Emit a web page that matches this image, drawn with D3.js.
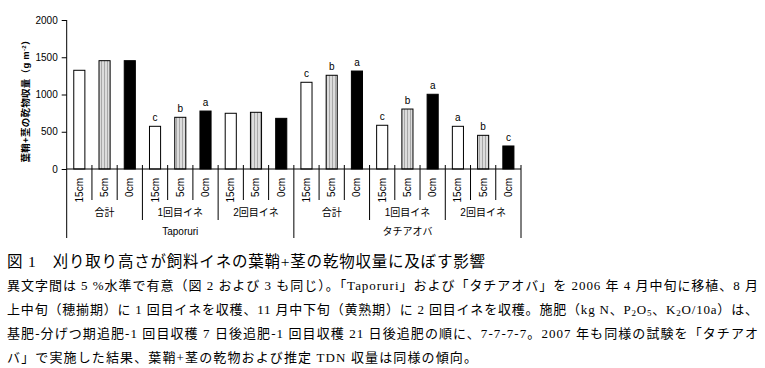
<!DOCTYPE html>
<html>
<head>
<meta charset="utf-8">
<script src="https://cdn.jsdelivr.net/npm/d3@7"></script>
<style>
  body { margin: 0; background: #fff; }
  svg { display: block; }
</style>
</head>
<body>
<script>
var varieties = ["Taporuri", "タチアオバ"];
var groups = ["合計", "1回目イネ", "2回目イネ"];
var heights = ["15cm", "5cm", "0cm"];
var taporuri = [1325, 1454, 1454, 573, 694, 778, 748, 761, 680];
var tachiaoba = [1164, 1258, 1315, 587, 805, 1003, 573, 452, 309];
var taporuriSig = ["", "", "", "c", "b", "a", "", "", ""];
var tachiaobaSig = ["c", "b", "a", "c", "b", "a", "a", "b", "c"];
var yTicks = [0, 500, 1000, 1500, 2000];

var captionTitle = "図 1　刈り取り高さが飼料イネの葉鞘+茎の乾物収量に及ぼす影響";
var captionLines = [
  [["異文字間は 5 %水準で有意（図 2 および 3 も同じ）。「Taporuri」および「タチアオバ」を 2006 年 4 月中旬に移植、8 月"]],
  [["上中旬（穂揃期）に 1 回目イネを収穫、11 月中下旬（黄熟期）に 2 回目イネを収穫。施肥（kg N、P"], ["2", "sub"], ["O"], ["5", "sub"], ["、K"], ["2", "sub"], ["O/10a）は、"]],
  [["基肥-分げつ期追肥-1 回目収穫 7 日後追肥-1 回目収穫 21 日後追肥の順に、7-7-7-7。2007 年も同様の試験を「タチアオ"]],
  [["バ」で実施した結果、葉鞘+茎の乾物および推定 TDN 収量は同様の傾向。"]]
];

// flatten into one list of bars
var bars = [];
varieties.forEach(function(v, vi) {
  var vals = vi == 0 ? taporuri : tachiaoba;
  var sig = vi == 0 ? taporuriSig : tachiaobaSig;
  vals.forEach(function(d, i) {
    bars.push({key: vi + "-" + i, variety: v, group: groups[Math.floor(i / 3)], height: heights[i % 3], h: i % 3, value: d, sig: sig[i]});
  });
});

var svg = d3.select("body").append("svg").attr("width", 765).attr("height", 368);
var sansFont = "'Liberation Sans', Arial, 'Noto Sans CJK JP', sans-serif";
var serifFont = "'Times New Roman', 'Liberation Serif', 'Noto Sans CJK JP', serif";

var defs = svg.append("defs");
var pat = defs.append("pattern").attr("id", "stripe").attr("patternUnits", "userSpaceOnUse")
  .attr("width", 3).attr("height", 4);
pat.append("rect").attr("width", 3).attr("height", 4).attr("fill", "#dcdcdc");
pat.append("rect").attr("x", 2).attr("width", 1).attr("height", 4).attr("fill", "#a8a8a8");

var x0 = 66.7, x1 = 521, yTop = 20, yBase = 169;

var x = d3.scaleBand().domain(bars.map(function(d) { return d.key; }))
  .range([x0, x1]).paddingInner(0.56).paddingOuter(0.28);
var y = d3.scaleLinear().domain([0, 2000]).range([yBase, yTop]);
var step = x.step();

var fills = ["#fff", "url(#stripe)", "#000"];

svg.selectAll("rect.bar").data(bars).enter().append("rect")
  .attr("class", "bar")
  .attr("x", function(d) { return x(d.key); })
  .attr("y", function(d) { return y(d.value); })
  .attr("width", x.bandwidth())
  .attr("height", function(d) { return yBase - y(d.value); })
  .attr("fill", function(d) { return fills[d.h]; })
  .attr("stroke", "#000").attr("stroke-width", 1);

svg.selectAll("text.sig").data(bars.filter(function(d) { return d.sig; })).enter().append("text")
  .attr("class", "sig")
  .attr("x", function(d) { return x(d.key) + x.bandwidth() / 2; })
  .attr("y", function(d) { return y(d.value) - 5; })
  .attr("text-anchor", "middle")
  .attr("font-family", sansFont).attr("font-size", 10)
  .text(function(d) { return d.sig; });

// y axis
var yAxis = d3.axisLeft(y).tickValues(yTicks).tickFormat(d3.format("d"))
  .tickSize(5).tickSizeOuter(0).tickPadding(4);
var ga = svg.append("g").attr("transform", "translate(" + x0 + ",0)").call(yAxis);
ga.select(".domain").remove();
ga.selectAll("text").attr("font-family", sansFont).attr("font-size", 10).attr("fill", "#000");
ga.selectAll("line").attr("stroke", "#000");

svg.append("line").attr("x1", x0).attr("x2", x0).attr("y1", yTop).attr("y2", 238).attr("stroke", "#000");
svg.append("line").attr("x1", x0).attr("x2", x1).attr("y1", yBase).attr("y2", yBase).attr("stroke", "#000");

// y title
var yt = svg.append("text")
  .attr("transform", "translate(29,99) rotate(-90)")
  .attr("text-anchor", "middle")
  .attr("font-family", sansFont).attr("font-size", 9.5).attr("font-weight", "bold")
  .attr("textLength", 127).attr("lengthAdjust", "spacing");
yt.append("tspan").text("葉鞘+茎の乾物収量（g m");
yt.append("tspan").attr("font-size", 6).attr("dy", -3).text("-2");
yt.append("tspan").attr("dy", 3).text("）");

// category dividers
d3.range(1, 18).forEach(function(i) {
  var len = i % 9 == 0 ? 238 : (i % 3 == 0 ? 220 : 200);
  svg.append("line").attr("x1", x0 + i * step).attr("x2", x0 + i * step)
    .attr("y1", yBase - 4).attr("y2", len).attr("stroke", "#000");
});
svg.append("line").attr("x1", x1).attr("x2", x1).attr("y1", yBase - 4).attr("y2", 238).attr("stroke", "#000");

// height labels
svg.selectAll("text.hl").data(bars).enter().append("text")
  .attr("class", "hl")
  .attr("transform", function(d) { return "translate(" + (x(d.key) + x.bandwidth() / 2 + 3.5) + ",178) rotate(-90)"; })
  .attr("text-anchor", "end")
  .attr("font-family", sansFont).attr("font-size", 10)
  .text(function(d) { return d.height; });

// group labels
var groupCells = [];
varieties.forEach(function(v, vi) {
  groups.forEach(function(g, gi) { groupCells.push({label: g, idx: vi * 3 + gi}); });
});
svg.selectAll("text.gl").data(groupCells).enter().append("text")
  .attr("class", "gl")
  .attr("x", function(d) { return x0 + (d.idx * 3 + 1.5) * step; })
  .attr("y", 216)
  .attr("text-anchor", "middle")
  .attr("font-family", sansFont).attr("font-size", 10)
  .text(function(d) { return d.label; });

svg.selectAll("text.vl").data(varieties).enter().append("text")
  .attr("class", "vl")
  .attr("x", function(d, i) { return x0 + (i * 9 + 4.5) * step; })
  .attr("y", 235)
  .attr("text-anchor", "middle")
  .attr("font-family", sansFont).attr("font-size", 10)
  .text(function(d) { return d; });

// caption
svg.append("text").attr("x", 7).attr("y", 267)
  .attr("font-family", serifFont).attr("font-size", 15.5)
  .attr("textLength", 478).attr("lengthAdjust", "spacing")
  .text(captionTitle);

var lineWidths = [751, 751, 751, 470];
captionLines.forEach(function(parts, li) {
  var t = svg.append("text").attr("x", 7).attr("y", 290 + li * 24)
    .attr("font-family", serifFont).attr("font-size", 13)
    .attr("textLength", lineWidths[li]).attr("lengthAdjust", "spacing");
  parts.forEach(function(p, pi) {
    var s = t.append("tspan").text(p[0]);
    if (p[1] == "sub") s.attr("font-size", 9).attr("dy", 2);
    else if (pi > 0 && parts[pi - 1][1] == "sub") s.attr("dy", -2);
  });
});
</script>
</body>
</html>
